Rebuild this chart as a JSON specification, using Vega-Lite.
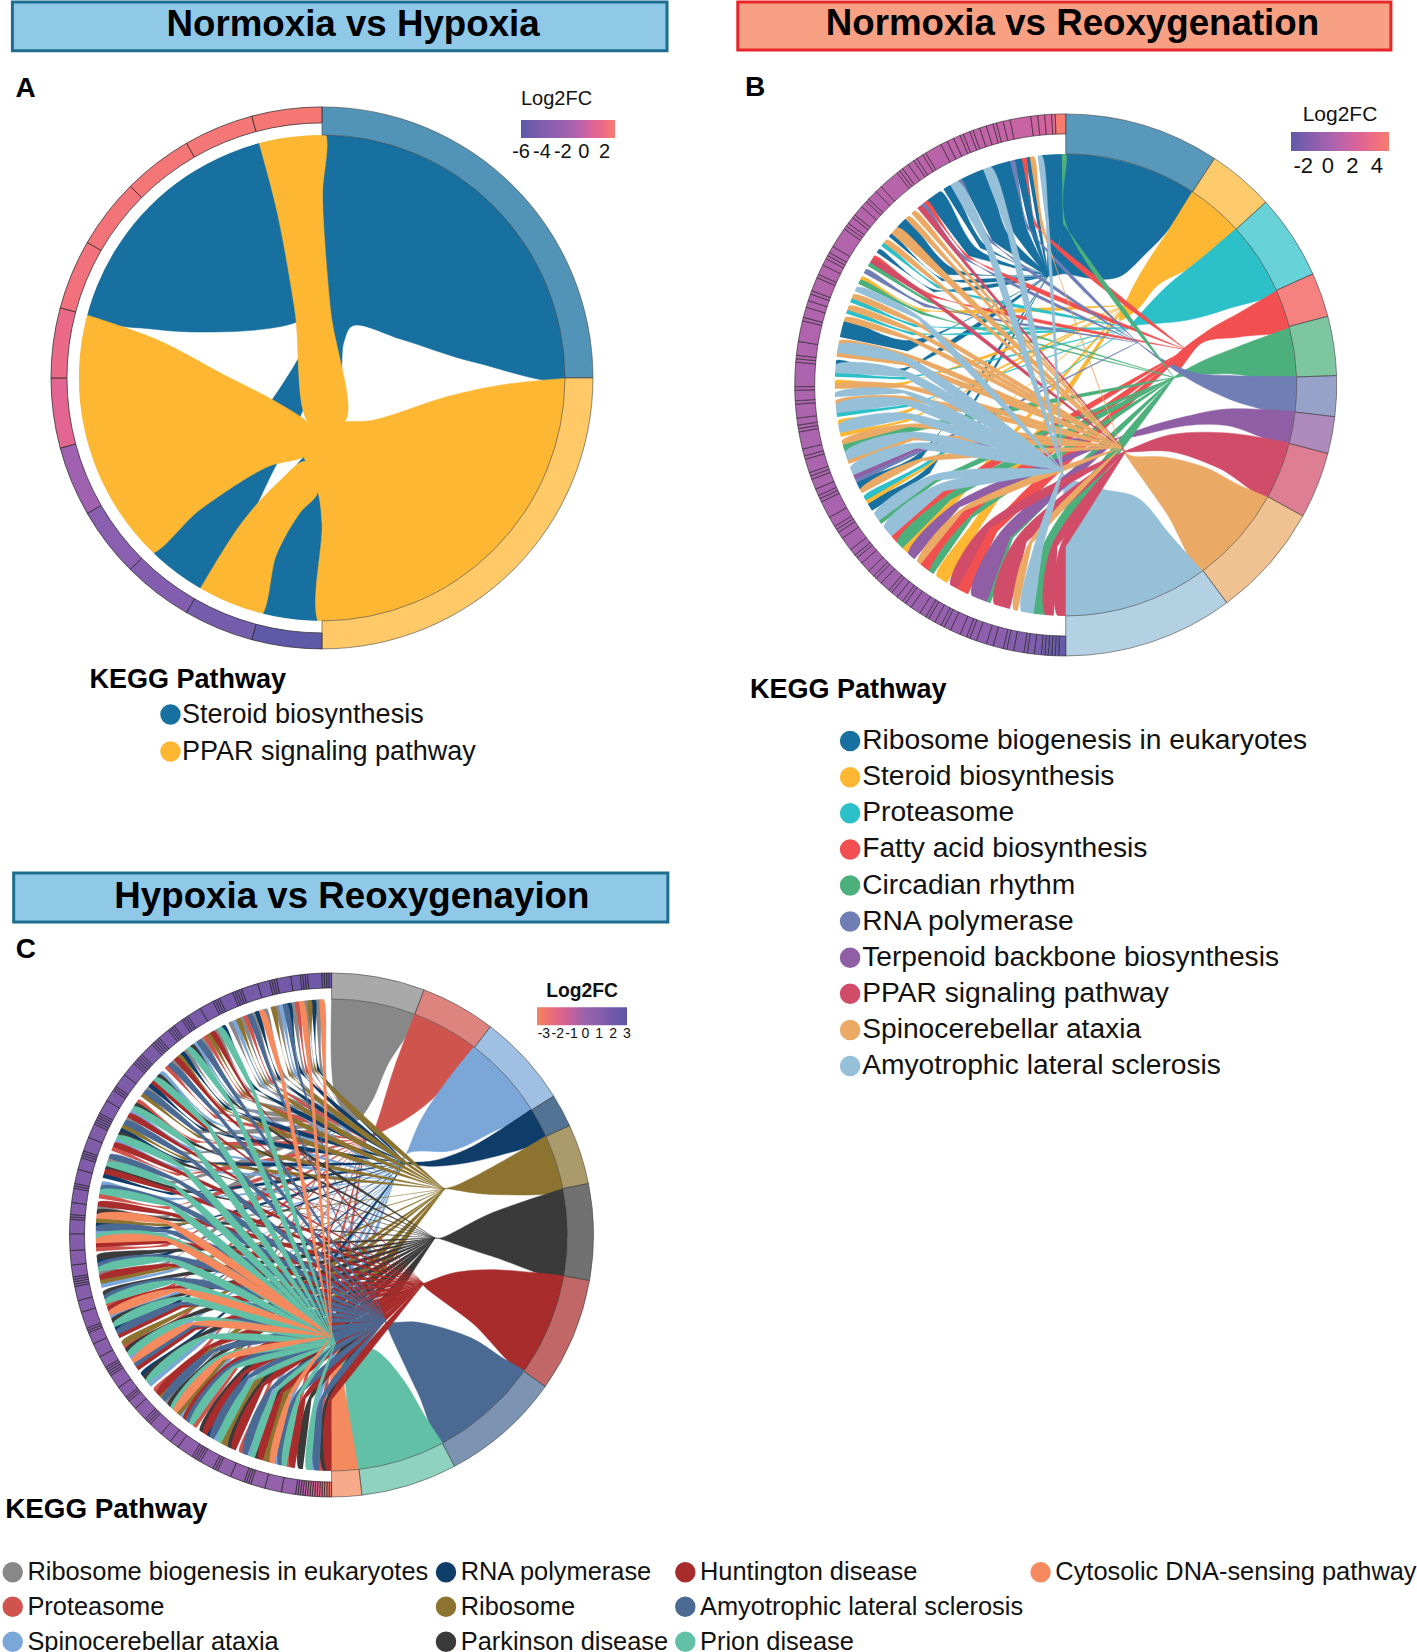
{"$schema":"https://vega.github.io/schema/vega-lite/v6.json","padding":0,"background":"white","spacing":0,"bounds":"flush","columns":2,"resolve":{"scale":{"fill":"independent","stroke":"independent","color":"independent","theta":"independent","x":"independent","y":"independent"},"legend":{"fill":"independent","color":"independent"}},"config":{"view":{"stroke":null},"axis":{"disable":true},"font":"Liberation Sans"},
"datasets":{
"rim":[{"k":0,"x":0,"y":-100},{"k":1,"x":-1.7,"y":-100},{"k":2,"x":-3.5,"y":-99.9},{"k":3,"x":-5.2,"y":-99.9},{"k":4,"x":-7,"y":-99.8},{"k":5,"x":-8.7,"y":-99.6},{"k":6,"x":-10.5,"y":-99.5},{"k":7,"x":-12.2,"y":-99.3},{"k":8,"x":-13.9,"y":-99},{"k":9,"x":-15.6,"y":-98.8},{"k":10,"x":-17.4,"y":-98.5},{"k":11,"x":-19.1,"y":-98.2},{"k":12,"x":-20.8,"y":-97.8},{"k":13,"x":-22.5,"y":-97.4},{"k":14,"x":-24.2,"y":-97},{"k":15,"x":-25.9,"y":-96.6},{"k":16,"x":-27.6,"y":-96.1},{"k":17,"x":-29.2,"y":-95.6},{"k":18,"x":-30.9,"y":-95.1},{"k":19,"x":-32.6,"y":-94.6},{"k":20,"x":-34.2,"y":-94},{"k":21,"x":-35.8,"y":-93.4},{"k":22,"x":-37.5,"y":-92.7},{"k":23,"x":-39.1,"y":-92.1},{"k":24,"x":-40.7,"y":-91.4},{"k":25,"x":-42.3,"y":-90.6},{"k":26,"x":-43.8,"y":-89.9},{"k":27,"x":-45.4,"y":-89.1},{"k":28,"x":-46.9,"y":-88.3},{"k":29,"x":-48.5,"y":-87.5},{"k":30,"x":-50,"y":-86.6},{"k":31,"x":-51.5,"y":-85.7},{"k":32,"x":-53,"y":-84.8},{"k":33,"x":-54.5,"y":-83.9},{"k":34,"x":-55.9,"y":-82.9},{"k":35,"x":-57.4,"y":-81.9},{"k":36,"x":-58.8,"y":-80.9},{"k":37,"x":-60.2,"y":-79.9},{"k":38,"x":-61.6,"y":-78.8},{"k":39,"x":-62.9,"y":-77.7},{"k":40,"x":-64.3,"y":-76.6},{"k":41,"x":-65.6,"y":-75.5},{"k":42,"x":-66.9,"y":-74.3},{"k":43,"x":-68.2,"y":-73.1},{"k":44,"x":-69.5,"y":-71.9},{"k":45,"x":-70.7,"y":-70.7},{"k":46,"x":-71.9,"y":-69.5},{"k":47,"x":-73.1,"y":-68.2},{"k":48,"x":-74.3,"y":-66.9},{"k":49,"x":-75.5,"y":-65.6},{"k":50,"x":-76.6,"y":-64.3},{"k":51,"x":-77.7,"y":-62.9},{"k":52,"x":-78.8,"y":-61.6},{"k":53,"x":-79.9,"y":-60.2},{"k":54,"x":-80.9,"y":-58.8},{"k":55,"x":-81.9,"y":-57.4},{"k":56,"x":-82.9,"y":-55.9},{"k":57,"x":-83.9,"y":-54.5},{"k":58,"x":-84.8,"y":-53},{"k":59,"x":-85.7,"y":-51.5},{"k":60,"x":-86.6,"y":-50},{"k":61,"x":-87.5,"y":-48.5},{"k":62,"x":-88.3,"y":-46.9},{"k":63,"x":-89.1,"y":-45.4},{"k":64,"x":-89.9,"y":-43.8},{"k":65,"x":-90.6,"y":-42.3},{"k":66,"x":-91.4,"y":-40.7},{"k":67,"x":-92.1,"y":-39.1},{"k":68,"x":-92.7,"y":-37.5},{"k":69,"x":-93.4,"y":-35.8},{"k":70,"x":-94,"y":-34.2},{"k":71,"x":-94.6,"y":-32.6},{"k":72,"x":-95.1,"y":-30.9},{"k":73,"x":-95.6,"y":-29.2},{"k":74,"x":-96.1,"y":-27.6},{"k":75,"x":-96.6,"y":-25.9},{"k":76,"x":-97,"y":-24.2},{"k":77,"x":-97.4,"y":-22.5},{"k":78,"x":-97.8,"y":-20.8},{"k":79,"x":-98.2,"y":-19.1},{"k":80,"x":-98.5,"y":-17.4},{"k":81,"x":-98.8,"y":-15.6},{"k":82,"x":-99,"y":-13.9},{"k":83,"x":-99.3,"y":-12.2},{"k":84,"x":-99.5,"y":-10.5},{"k":85,"x":-99.6,"y":-8.7},{"k":86,"x":-99.8,"y":-7},{"k":87,"x":-99.9,"y":-5.2},{"k":88,"x":-99.9,"y":-3.5},{"k":89,"x":-100,"y":-1.7},{"k":90,"x":-100,"y":0},{"k":91,"x":-100,"y":1.7},{"k":92,"x":-99.9,"y":3.5},{"k":93,"x":-99.9,"y":5.2},{"k":94,"x":-99.8,"y":7},{"k":95,"x":-99.6,"y":8.7},{"k":96,"x":-99.5,"y":10.5},{"k":97,"x":-99.3,"y":12.2},{"k":98,"x":-99,"y":13.9},{"k":99,"x":-98.8,"y":15.6},{"k":100,"x":-98.5,"y":17.4},{"k":101,"x":-98.2,"y":19.1},{"k":102,"x":-97.8,"y":20.8},{"k":103,"x":-97.4,"y":22.5},{"k":104,"x":-97,"y":24.2},{"k":105,"x":-96.6,"y":25.9},{"k":106,"x":-96.1,"y":27.6},{"k":107,"x":-95.6,"y":29.2},{"k":108,"x":-95.1,"y":30.9},{"k":109,"x":-94.6,"y":32.6},{"k":110,"x":-94,"y":34.2},{"k":111,"x":-93.4,"y":35.8},{"k":112,"x":-92.7,"y":37.5},{"k":113,"x":-92.1,"y":39.1},{"k":114,"x":-91.4,"y":40.7},{"k":115,"x":-90.6,"y":42.3},{"k":116,"x":-89.9,"y":43.8},{"k":117,"x":-89.1,"y":45.4},{"k":118,"x":-88.3,"y":46.9},{"k":119,"x":-87.5,"y":48.5},{"k":120,"x":-86.6,"y":50},{"k":121,"x":-85.7,"y":51.5},{"k":122,"x":-84.8,"y":53},{"k":123,"x":-83.9,"y":54.5},{"k":124,"x":-82.9,"y":55.9},{"k":125,"x":-81.9,"y":57.4},{"k":126,"x":-80.9,"y":58.8},{"k":127,"x":-79.9,"y":60.2},{"k":128,"x":-78.8,"y":61.6},{"k":129,"x":-77.7,"y":62.9},{"k":130,"x":-76.6,"y":64.3},{"k":131,"x":-75.5,"y":65.6},{"k":132,"x":-74.3,"y":66.9},{"k":133,"x":-73.1,"y":68.2},{"k":134,"x":-71.9,"y":69.5},{"k":135,"x":-70.7,"y":70.7},{"k":136,"x":-69.5,"y":71.9},{"k":137,"x":-68.2,"y":73.1},{"k":138,"x":-66.9,"y":74.3},{"k":139,"x":-65.6,"y":75.5},{"k":140,"x":-64.3,"y":76.6},{"k":141,"x":-62.9,"y":77.7},{"k":142,"x":-61.6,"y":78.8},{"k":143,"x":-60.2,"y":79.9},{"k":144,"x":-58.8,"y":80.9},{"k":145,"x":-57.4,"y":81.9},{"k":146,"x":-55.9,"y":82.9},{"k":147,"x":-54.5,"y":83.9},{"k":148,"x":-53,"y":84.8},{"k":149,"x":-51.5,"y":85.7},{"k":150,"x":-50,"y":86.6},{"k":151,"x":-48.5,"y":87.5},{"k":152,"x":-46.9,"y":88.3},{"k":153,"x":-45.4,"y":89.1},{"k":154,"x":-43.8,"y":89.9},{"k":155,"x":-42.3,"y":90.6},{"k":156,"x":-40.7,"y":91.4},{"k":157,"x":-39.1,"y":92.1},{"k":158,"x":-37.5,"y":92.7},{"k":159,"x":-35.8,"y":93.4},{"k":160,"x":-34.2,"y":94},{"k":161,"x":-32.6,"y":94.6},{"k":162,"x":-30.9,"y":95.1},{"k":163,"x":-29.2,"y":95.6},{"k":164,"x":-27.6,"y":96.1},{"k":165,"x":-25.9,"y":96.6},{"k":166,"x":-24.2,"y":97},{"k":167,"x":-22.5,"y":97.4},{"k":168,"x":-20.8,"y":97.8},{"k":169,"x":-19.1,"y":98.2},{"k":170,"x":-17.4,"y":98.5},{"k":171,"x":-15.6,"y":98.8},{"k":172,"x":-13.9,"y":99},{"k":173,"x":-12.2,"y":99.3},{"k":174,"x":-10.5,"y":99.5},{"k":175,"x":-8.7,"y":99.6},{"k":176,"x":-7,"y":99.8},{"k":177,"x":-5.2,"y":99.9},{"k":178,"x":-3.5,"y":99.9},{"k":179,"x":-1.7,"y":100},{"k":180,"x":0,"y":100},
{"k":1000,"x":0,"y":-70},{"k":1001,"x":-1.2,"y":-70},{"k":1002,"x":-2.4,"y":-69.9},{"k":1003,"x":-3.6,"y":-69.9},{"k":1004,"x":-4.9,"y":-69.9},{"k":1005,"x":-6.1,"y":-69.7},{"k":1006,"x":-7.3,"y":-69.7},{"k":1007,"x":-8.5,"y":-69.5},{"k":1008,"x":-9.7,"y":-69.3},{"k":1009,"x":-10.9,"y":-69.2},{"k":1010,"x":-12.2,"y":-69},{"k":1011,"x":-13.4,"y":-68.7},{"k":1012,"x":-14.6,"y":-68.5},{"k":1013,"x":-15.8,"y":-68.2},{"k":1014,"x":-16.9,"y":-67.9},{"k":1015,"x":-18.1,"y":-67.6},{"k":1016,"x":-19.3,"y":-67.3},{"k":1017,"x":-20.4,"y":-66.9},{"k":1018,"x":-21.6,"y":-66.6},{"k":1019,"x":-22.8,"y":-66.2},{"k":1020,"x":-23.9,"y":-65.8},{"k":1021,"x":-25.1,"y":-65.4},{"k":1022,"x":-26.2,"y":-64.9},{"k":1023,"x":-27.4,"y":-64.5},{"k":1024,"x":-28.5,"y":-64},{"k":1025,"x":-29.6,"y":-63.4},{"k":1026,"x":-30.7,"y":-62.9},{"k":1027,"x":-31.8,"y":-62.4},{"k":1028,"x":-32.8,"y":-61.8},{"k":1029,"x":-33.9,"y":-61.2},{"k":1030,"x":-35,"y":-60.6},{"k":1031,"x":-36,"y":-60},{"k":1032,"x":-37.1,"y":-59.4},{"k":1033,"x":-38.1,"y":-58.7},{"k":1034,"x":-39.1,"y":-58},{"k":1035,"x":-40.2,"y":-57.3},{"k":1036,"x":-41.2,"y":-56.6},{"k":1037,"x":-42.1,"y":-55.9},{"k":1038,"x":-43.1,"y":-55.2},{"k":1039,"x":-44,"y":-54.4},{"k":1040,"x":-45,"y":-53.6},{"k":1041,"x":-45.9,"y":-52.9},{"k":1042,"x":-46.8,"y":-52},{"k":1043,"x":-47.7,"y":-51.2},{"k":1044,"x":-48.6,"y":-50.3},{"k":1045,"x":-49.5,"y":-49.5},{"k":1046,"x":-50.3,"y":-48.6},{"k":1047,"x":-51.2,"y":-47.7},{"k":1048,"x":-52,"y":-46.8},{"k":1049,"x":-52.9,"y":-45.9},{"k":1050,"x":-53.6,"y":-45},{"k":1051,"x":-54.4,"y":-44},{"k":1052,"x":-55.2,"y":-43.1},{"k":1053,"x":-55.9,"y":-42.1},{"k":1054,"x":-56.6,"y":-41.2},{"k":1055,"x":-57.3,"y":-40.2},{"k":1056,"x":-58,"y":-39.1},{"k":1057,"x":-58.7,"y":-38.1},{"k":1058,"x":-59.4,"y":-37.1},{"k":1059,"x":-60,"y":-36},{"k":1060,"x":-60.6,"y":-35},{"k":1061,"x":-61.2,"y":-33.9},{"k":1062,"x":-61.8,"y":-32.8},{"k":1063,"x":-62.4,"y":-31.8},{"k":1064,"x":-62.9,"y":-30.7},{"k":1065,"x":-63.4,"y":-29.6},{"k":1066,"x":-64,"y":-28.5},{"k":1067,"x":-64.5,"y":-27.4},{"k":1068,"x":-64.9,"y":-26.2},{"k":1069,"x":-65.4,"y":-25.1},{"k":1070,"x":-65.8,"y":-23.9},{"k":1071,"x":-66.2,"y":-22.8},{"k":1072,"x":-66.6,"y":-21.6},{"k":1073,"x":-66.9,"y":-20.4},{"k":1074,"x":-67.3,"y":-19.3},{"k":1075,"x":-67.6,"y":-18.1},{"k":1076,"x":-67.9,"y":-16.9},{"k":1077,"x":-68.2,"y":-15.8},{"k":1078,"x":-68.5,"y":-14.6},{"k":1079,"x":-68.7,"y":-13.4},{"k":1080,"x":-69,"y":-12.2},{"k":1081,"x":-69.2,"y":-10.9},{"k":1082,"x":-69.3,"y":-9.7},{"k":1083,"x":-69.5,"y":-8.5},{"k":1084,"x":-69.7,"y":-7.3},{"k":1085,"x":-69.7,"y":-6.1},{"k":1086,"x":-69.9,"y":-4.9},{"k":1087,"x":-69.9,"y":-3.6},{"k":1088,"x":-69.9,"y":-2.4},{"k":1089,"x":-70,"y":-1.2},{"k":1090,"x":-70,"y":0},{"k":1091,"x":-70,"y":1.2},{"k":1092,"x":-69.9,"y":2.4},{"k":1093,"x":-69.9,"y":3.6},{"k":1094,"x":-69.9,"y":4.9},{"k":1095,"x":-69.7,"y":6.1},{"k":1096,"x":-69.7,"y":7.3},{"k":1097,"x":-69.5,"y":8.5},{"k":1098,"x":-69.3,"y":9.7},{"k":1099,"x":-69.2,"y":10.9},{"k":1100,"x":-69,"y":12.2},{"k":1101,"x":-68.7,"y":13.4},{"k":1102,"x":-68.5,"y":14.6},{"k":1103,"x":-68.2,"y":15.8},{"k":1104,"x":-67.9,"y":16.9},{"k":1105,"x":-67.6,"y":18.1},{"k":1106,"x":-67.3,"y":19.3},{"k":1107,"x":-66.9,"y":20.4},{"k":1108,"x":-66.6,"y":21.6},{"k":1109,"x":-66.2,"y":22.8},{"k":1110,"x":-65.8,"y":23.9},{"k":1111,"x":-65.4,"y":25.1},{"k":1112,"x":-64.9,"y":26.2},{"k":1113,"x":-64.5,"y":27.4},{"k":1114,"x":-64,"y":28.5},{"k":1115,"x":-63.4,"y":29.6},{"k":1116,"x":-62.9,"y":30.7},{"k":1117,"x":-62.4,"y":31.8},{"k":1118,"x":-61.8,"y":32.8},{"k":1119,"x":-61.2,"y":33.9},{"k":1120,"x":-60.6,"y":35},{"k":1121,"x":-60,"y":36},{"k":1122,"x":-59.4,"y":37.1},{"k":1123,"x":-58.7,"y":38.1},{"k":1124,"x":-58,"y":39.1},{"k":1125,"x":-57.3,"y":40.2},{"k":1126,"x":-56.6,"y":41.2},{"k":1127,"x":-55.9,"y":42.1},{"k":1128,"x":-55.2,"y":43.1},{"k":1129,"x":-54.4,"y":44},{"k":1130,"x":-53.6,"y":45},{"k":1131,"x":-52.9,"y":45.9},{"k":1132,"x":-52,"y":46.8},{"k":1133,"x":-51.2,"y":47.7},{"k":1134,"x":-50.3,"y":48.6},{"k":1135,"x":-49.5,"y":49.5},{"k":1136,"x":-48.6,"y":50.3},{"k":1137,"x":-47.7,"y":51.2},{"k":1138,"x":-46.8,"y":52},{"k":1139,"x":-45.9,"y":52.9},{"k":1140,"x":-45,"y":53.6},{"k":1141,"x":-44,"y":54.4},{"k":1142,"x":-43.1,"y":55.2},{"k":1143,"x":-42.1,"y":55.9},{"k":1144,"x":-41.2,"y":56.6},{"k":1145,"x":-40.2,"y":57.3},{"k":1146,"x":-39.1,"y":58},{"k":1147,"x":-38.1,"y":58.7},{"k":1148,"x":-37.1,"y":59.4},{"k":1149,"x":-36,"y":60},{"k":1150,"x":-35,"y":60.6},{"k":1151,"x":-33.9,"y":61.2},{"k":1152,"x":-32.8,"y":61.8},{"k":1153,"x":-31.8,"y":62.4},{"k":1154,"x":-30.7,"y":62.9},{"k":1155,"x":-29.6,"y":63.4},{"k":1156,"x":-28.5,"y":64},{"k":1157,"x":-27.4,"y":64.5},{"k":1158,"x":-26.2,"y":64.9},{"k":1159,"x":-25.1,"y":65.4},{"k":1160,"x":-23.9,"y":65.8},{"k":1161,"x":-22.8,"y":66.2},{"k":1162,"x":-21.6,"y":66.6},{"k":1163,"x":-20.4,"y":66.9},{"k":1164,"x":-19.3,"y":67.3},{"k":1165,"x":-18.1,"y":67.6},{"k":1166,"x":-16.9,"y":67.9},{"k":1167,"x":-15.8,"y":68.2},{"k":1168,"x":-14.6,"y":68.5},{"k":1169,"x":-13.4,"y":68.7},{"k":1170,"x":-12.2,"y":69},{"k":1171,"x":-10.9,"y":69.2},{"k":1172,"x":-9.7,"y":69.3},{"k":1173,"x":-8.5,"y":69.5},{"k":1174,"x":-7.3,"y":69.7},{"k":1175,"x":-6.1,"y":69.7},{"k":1176,"x":-4.9,"y":69.9},{"k":1177,"x":-3.6,"y":69.9},{"k":1178,"x":-2.4,"y":69.9},{"k":1179,"x":-1.2,"y":70},{"k":1180,"x":0,"y":70},
{"k":201,"x":-7.6,"y":47.3,"pathway":"Ribosome biogenesis in eukaryotes"},{"k":202,"x":25.9,"y":34.5,"pathway":"Steroid biosynthesis"},{"k":203,"x":27.6,"y":24.8,"pathway":"Proteasome"},{"k":204,"x":52.3,"y":15.2,"pathway":"Fatty acid biosynthesis"},{"k":205,"x":47,"y":3.2,"pathway":"Circadian rhythm"},{"k":206,"x":31.2,"y":18.4,"pathway":"RNA polymerase"},{"k":207,"x":22.4,"y":-23.2,"pathway":"Terpenoid backbone biosynthesis"},{"k":208,"x":25.9,"y":-28.8,"pathway":"PPAR signaling pathway"},{"k":209,"x":24.1,"y":-27.2,"pathway":"Spinocerebellar ataxia"},{"k":210,"x":-1.4,"y":-36.9,"pathway":"Amyotrophic lateral sclerosis"},
{"k":301,"x":7.3,"y":48.4,"pathway":"Ribosome biogenesis in eukaryotes"},{"k":302,"x":14.6,"y":40.3,"pathway":"Proteasome"},{"k":303,"x":26.8,"y":23.9,"pathway":"Spinocerebellar ataxia"},{"k":304,"x":31.7,"y":30.6,"pathway":"RNA polymerase"},{"k":305,"x":47.9,"y":19.5,"pathway":"Ribosome"},{"k":306,"x":43.8,"y":-1.3,"pathway":"Parkinson disease"},{"k":307,"x":39,"y":-20.7,"pathway":"Huntington disease"},{"k":308,"x":22.7,"y":-36.3,"pathway":"Amyotrophic lateral sclerosis"},{"k":309,"x":1.6,"y":-45.9,"pathway":"Prion disease"},{"k":310,"x":0,"y":-43,"pathway":"Cytosolic DNA-sensing pathway"}],
"linksB":[{"h":201,"k":[57,59,1059,201,1057]},{"h":201,"k":[63,65,1065,201,1063]},{"h":201,"k":[95,96,1096,201,1095]},{"h":201,"k":[102,106,1106,201,1102]},{"h":201,"k":[125,126,1126,201,1125]},{"h":201,"k":[130,131,1131,201,1130]},{"h":201,"k":[133,136,1136,201,1133]},{"h":201,"k":[143,147,1147,201,1143]},{"h":201,"k":[148,150,1150,201,1148]},{"h":201,"k":[153,159,1159,201,1153]},{"h":201,"k":[161,166,1166,201,1161]},{"h":201,"k":[167,169,1169,201,1167]},{"h":201,"k":[170,171,1171,201,1170]},{"h":201,"k":[174,179,1179,201,1174]},
{"h":202,"k":[31,34,1034,202,1031]},{"h":202,"k":[43,45,1045,202,1043]},{"h":202,"k":[59,60,1060,202,1059]},{"h":202,"k":[77,78,1078,202,1077]},{"h":202,"k":[80,81,1081,202,1080]},{"h":202,"k":[90,91,1091,202,1090]},{"h":202,"k":[117,118,1118,202,1117]},
{"h":203,"k":[60,61,1061,203,1060]},{"h":203,"k":[82,83,1083,203,1082]},{"h":203,"k":[92,93,1093,203,1092]},{"h":203,"k":[108,109,1109,203,1108]},{"h":203,"k":[111,112,1112,203,1111]},{"h":203,"k":[127,128,1128,203,1127]},
{"h":204,"k":[25,28,1028,204,1025]},{"h":204,"k":[36,39,1039,204,1036]},{"h":204,"k":[47,49,1049,204,1047]},{"h":204,"k":[123,124,1124,204,1123]},{"h":204,"k":[142,143,1143,204,1142]},{"h":204,"k":[169,170,1170,204,1169]},
{"h":205,"k":[5,8,1008,205,1005]},{"h":205,"k":[19,20,1020,205,1019]},{"h":205,"k":[35,36,1036,205,1035]},{"h":205,"k":[45,47,1047,205,1045]},{"h":205,"k":[53,54,1054,205,1053]},{"h":205,"k":[73,75,1075,205,1073]},{"h":205,"k":[116,117,1117,205,1116]},{"h":205,"k":[121,122,1122,205,1121]},{"h":205,"k":[179,180,1180,205,1179]},
{"h":206,"k":[65,66,1066,206,1065]},{"h":206,"k":[119,120,1120,206,1119]},{"h":206,"k":[141,142,1142,206,1141]},{"h":206,"k":[152,153,1153,206,1152]},{"h":206,"k":[166,167,1167,206,1166]},
{"h":207,"k":[20,24,1024,207,1020]},{"h":207,"k":[41,43,1043,207,1041]},{"h":207,"k":[66,67,1067,207,1066]},
{"h":208,"k":[0,2,1002,208,1000]},{"h":208,"k":[3,5,1005,208,1003]},{"h":208,"k":[14,18,1018,208,1014]},{"h":208,"k":[28,30,1030,208,1028]},{"h":208,"k":[122,123,1123,208,1122]},{"h":208,"k":[140,141,1141,208,1140]},
{"h":209,"k":[12,13,1013,209,1012]},{"h":209,"k":[39,40,1040,209,1039]},{"h":209,"k":[62,63,1063,209,1062]},{"h":209,"k":[70,71,1071,209,1070]},{"h":209,"k":[75,76,1076,209,1075]},{"h":209,"k":[85,86,1086,209,1085]},{"h":209,"k":[89,90,1090,209,1089]},{"h":209,"k":[97,98,1098,209,1097]},{"h":209,"k":[100,101,1101,209,1100]},{"h":209,"k":[106,107,1107,209,1106]},{"h":209,"k":[109,110,1110,209,1109]},{"h":209,"k":[112,113,1113,209,1112]},{"h":209,"k":[128,129,1129,209,1128]},{"h":209,"k":[131,133,1133,209,1131]},{"h":209,"k":[136,137,1137,209,1136]},{"h":209,"k":[138,139,1139,209,1138]},{"h":209,"k":[171,172,1172,209,1171]},
{"h":210,"k":[8,11,1011,210,1008]},{"h":210,"k":[49,52,1052,210,1049]},{"h":210,"k":[54,56,1056,210,1054]},{"h":210,"k":[67,69,1069,210,1067]},{"h":210,"k":[71,73,1073,210,1071]},{"h":210,"k":[78,80,1080,210,1078]},{"h":210,"k":[83,85,1085,210,1083]},{"h":210,"k":[87,88,1088,210,1087]},{"h":210,"k":[93,95,1095,210,1093]},{"h":210,"k":[98,100,1100,210,1098]},{"h":210,"k":[114,115,1115,210,1114]},{"h":210,"k":[150,152,1152,210,1150]},{"h":210,"k":[159,161,1161,210,1159]},{"h":210,"k":[173,174,1174,210,1173]}],
"linksC":[{"h":301,"k":[176,177,1177,301,1176]},{"h":301,"k":[173,174,1174,301,1173]},{"h":301,"k":[170,171,1171,301,1170]},{"h":301,"k":[166,167,1167,301,1166]},{"h":301,"k":[163,164,1164,301,1163]},{"h":301,"k":[160,161,1161,301,1160]},{"h":301,"k":[157,158,1158,301,1157]},{"h":301,"k":[154,155,1155,301,1154]},{"h":301,"k":[150,151,1151,301,1150]},{"h":301,"k":[146,147,1147,301,1146]},{"h":301,"k":[141,142,1142,301,1141]},{"h":301,"k":[137,138,1138,301,1137]},{"h":301,"k":[128,129,1129,301,1128]},{"h":301,"k":[119,120,1120,301,1119]},{"h":301,"k":[108,109,1109,301,1108]},{"h":301,"k":[96,97,1097,301,1096]},{"h":301,"k":[80,81,1081,301,1080]},{"h":301,"k":[44,45,1045,301,1044]},
{"h":302,"k":[2,3,1003,302,1002]},{"h":302,"k":[10,11,1011,302,1010]},{"h":302,"k":[22,23,1023,302,1022]},{"h":302,"k":[35,36,1036,302,1035]},{"h":302,"k":[48,49,1049,302,1048]},{"h":302,"k":[61,62,1062,302,1061]},{"h":302,"k":[72,73,1073,302,1072]},{"h":302,"k":[86,87,1087,302,1086]},{"h":302,"k":[99,100,1100,302,1099]},{"h":302,"k":[111,112,1112,302,1111]},{"h":302,"k":[124,125,1125,302,1124]},{"h":302,"k":[135,136,1136,302,1135]},{"h":302,"k":[147,148,1148,302,1147]},{"h":302,"k":[158,159,1159,302,1158]},{"h":302,"k":[171,172,1172,302,1171]},
{"h":303,"k":[4,5,1005,303,1004]},{"h":303,"k":[13,14,1014,303,1013]},{"h":303,"k":[20,21,1021,303,1020]},{"h":303,"k":[29,30,1030,303,1029]},{"h":303,"k":[39,40,1040,303,1039]},{"h":303,"k":[50,51,1051,303,1050]},{"h":303,"k":[58,59,1059,303,1058]},{"h":303,"k":[69,70,1070,303,1069]},{"h":303,"k":[77,78,1078,303,1077]},{"h":303,"k":[90,91,1091,303,1090]},{"h":303,"k":[102,103,1103,303,1102]},{"h":303,"k":[113,114,1114,303,1113]},{"h":303,"k":[121,122,1122,303,1121]},{"h":303,"k":[133,134,1134,303,1133]},{"h":303,"k":[144,145,1145,303,1144]},{"h":303,"k":[155,156,1156,303,1155]},{"h":303,"k":[167,168,1168,303,1167]},
{"h":304,"k":[175,176,1176,304,1175]},{"h":304,"k":[169,170,1170,304,1169]},{"h":304,"k":[161,162,1162,304,1161]},{"h":304,"k":[152,153,1153,304,1152]},{"h":304,"k":[140,141,1141,304,1140]},{"h":304,"k":[129,130,1130,304,1129]},{"h":304,"k":[116,117,1117,304,1116]},{"h":304,"k":[104,105,1105,304,1104]},{"h":304,"k":[92,93,1093,304,1092]},{"h":304,"k":[83,84,1084,304,1083]},{"h":304,"k":[66,67,1067,304,1066]},{"h":304,"k":[53,54,1054,304,1053]},{"h":304,"k":[31,32,1032,304,1031]},
{"h":305,"k":[174,175,1175,305,1174]},{"h":305,"k":[165,166,1166,305,1165]},{"h":305,"k":[156,157,1157,305,1156]},{"h":305,"k":[148,149,1149,305,1148]},{"h":305,"k":[139,140,1140,305,1139]},{"h":305,"k":[126,127,1127,305,1126]},{"h":305,"k":[117,118,1118,305,1117]},{"h":305,"k":[93,94,1094,305,1093]},{"h":305,"k":[78,79,1079,305,1078]},{"h":305,"k":[62,63,1063,305,1062]},{"h":305,"k":[46,47,1047,305,1046]},{"h":305,"k":[40,41,1041,305,1040]},{"h":305,"k":[26,28,1028,305,1026]},{"h":305,"k":[15,17,1017,305,1015]},
{"h":306,"k":[1,2,1002,306,1001]},{"h":306,"k":[7,8,1008,306,1007]},{"h":306,"k":[18,19,1019,306,1018]},{"h":306,"k":[25,26,1026,306,1025]},{"h":306,"k":[33,34,1034,306,1033]},{"h":306,"k":[43,44,1044,306,1043]},{"h":306,"k":[52,53,1053,306,1052]},{"h":306,"k":[60,61,1061,306,1060]},{"h":306,"k":[68,69,1069,306,1068]},{"h":306,"k":[75,76,1076,306,1075]},{"h":306,"k":[84,85,1085,306,1084]},{"h":306,"k":[95,96,1096,306,1095]},{"h":306,"k":[106,107,1107,306,1106]},{"h":306,"k":[115,116,1116,306,1115]},{"h":306,"k":[123,124,1124,306,1123]},{"h":306,"k":[132,133,1133,306,1132]},{"h":306,"k":[143,144,1144,306,1143]},
{"h":307,"k":[0,1,1001,307,1000]},{"h":307,"k":[9,10,1010,307,1009]},{"h":307,"k":[17,18,1018,307,1017]},{"h":307,"k":[24,25,1025,307,1024]},{"h":307,"k":[32,33,1033,307,1032]},{"h":307,"k":[38,39,1039,307,1038]},{"h":307,"k":[47,48,1048,307,1047]},{"h":307,"k":[55,56,1056,307,1055]},{"h":307,"k":[64,65,1065,307,1064]},{"h":307,"k":[71,72,1072,307,1071]},{"h":307,"k":[79,80,1080,307,1079]},{"h":307,"k":[87,88,1088,307,1087]},{"h":307,"k":[97,98,1098,307,1097]},{"h":307,"k":[105,106,1106,307,1105]},{"h":307,"k":[112,113,1113,307,1112]},{"h":307,"k":[120,121,1121,307,1120]},{"h":307,"k":[130,131,1131,307,1130]},{"h":307,"k":[138,139,1139,307,1138]},{"h":307,"k":[149,150,1150,307,1149]},
{"h":308,"k":[3,4,1004,308,1003]},{"h":308,"k":[12,13,1013,308,1012]},{"h":308,"k":[21,22,1022,308,1021]},{"h":308,"k":[30,31,1031,308,1030]},{"h":308,"k":[37,38,1038,308,1037]},{"h":308,"k":[45,46,1046,308,1045]},{"h":308,"k":[56,57,1057,308,1056]},{"h":308,"k":[65,66,1066,308,1065]},{"h":308,"k":[74,75,1075,308,1074]},{"h":308,"k":[82,83,1083,308,1082]},{"h":308,"k":[91,92,1092,308,1091]},{"h":308,"k":[101,102,1102,308,1101]},{"h":308,"k":[109,110,1110,308,1109]},{"h":308,"k":[118,119,1119,308,1118]},{"h":308,"k":[127,128,1128,308,1127]},{"h":308,"k":[136,137,1137,308,1136]},{"h":308,"k":[145,146,1146,308,1145]},{"h":308,"k":[159,160,1160,308,1159]},{"h":308,"k":[168,169,1169,308,1168]},
{"h":309,"k":[5,6,1006,309,1005]},{"h":309,"k":[11,12,1012,309,1011]},{"h":309,"k":[19,20,1020,309,1019]},{"h":309,"k":[28,29,1029,309,1028]},{"h":309,"k":[36,37,1037,309,1036]},{"h":309,"k":[42,43,1043,309,1042]},{"h":309,"k":[51,52,1052,309,1051]},{"h":309,"k":[59,60,1060,309,1059]},{"h":309,"k":[67,68,1068,309,1067]},{"h":309,"k":[73,74,1074,309,1073]},{"h":309,"k":[81,82,1082,309,1081]},{"h":309,"k":[89,90,1090,309,1089]},{"h":309,"k":[100,101,1101,309,1100]},{"h":309,"k":[107,108,1108,309,1107]},{"h":309,"k":[114,115,1115,309,1114]},{"h":309,"k":[122,123,1123,309,1122]},{"h":309,"k":[131,132,1132,309,1131]},{"h":309,"k":[142,143,1143,309,1142]},{"h":309,"k":[151,152,1152,309,1151]},
{"h":310,"k":[177,178,1178,310,1177]},{"h":310,"k":[172,173,1173,310,1172]},{"h":310,"k":[162,163,1163,310,1162]},{"h":310,"k":[94,95,1095,310,1094]},{"h":310,"k":[88,89,1089,310,1088]},{"h":310,"k":[70,71,1071,310,1070]},{"h":310,"k":[57,58,1058,310,1057]},{"h":310,"k":[41,42,1042,310,1041]},{"h":310,"k":[14,15,1015,310,1014]}]
},
"concat":[
{"width":720,"height":870,"resolve":{"scale":{"theta":"independent"}},"layer":[
{"data":{"values":[
{"pathway":"Steroid biosynthesis","x":[0,26.7,51.5,72.8,89.2,99.5,103,62.3,32.9,12.7,9,6.3,-3.9,0,0],"y":[103,99.5,89.2,72.8,51.5,26.7,0,6.6,15.8,21.5,14.8,-2.7,-2.7,50,103]},
{"pathway":"Steroid biosynthesis","x":[-26.7,-51.5,-72.8,-89.2,-99.5,-68,-44.3,-22.2,-10.3,2,0,-26.7],"y":[99.5,89.2,72.8,51.5,26.7,19.9,18.9,20.3,23,30,60,99.5]},
{"pathway":"Steroid biosynthesis","x":[-7.5,-20.4,-72.8,-51.5,-18.6,-9,-3.9,-7.5],"y":[11.7,-8.8,-72.8,-89.2,-35.4,-16,-0.6,11.7]},
{"pathway":"Steroid biosynthesis","x":[-26.7,0,0,-1.7,-9.4,-18.6,-26.7],"y":[-99.5,-103,-60,-46.7,-55.9,-72.3,-99.5]},
{"pathway":"Steroid biosynthesis","x":[-13.5,-6.6,-5],"y":[-40.5,-32,-36]},
{"pathway":"PPAR signaling pathway","x":[-99.5,-103,-99.5,-89.2,-72.8,-49.8,-22.2,-7.5,0,-4.8,-20,-40.6,-68,-99.5],"y":[26.7,0,-26.7,-51.5,-72.8,-53.9,-36.5,-32.4,-25,-19,-9.2,1.4,15.8,26.7]},
{"pathway":"PPAR signaling pathway","x":[103,99.5,89.2,72.8,51.5,26.7,0,0,-1.7,-6.6,-7.5,-4.8,9.4,21,51.3,75.2,103],"y":[0,-26.7,-51.5,-72.8,-89.2,-99.5,-103,-60,-46.7,-34.4,-32.4,-19,-18,-17.4,-7.8,-2.7,0]},
{"pathway":"PPAR signaling pathway","x":[-51.5,-26.7,-18.6,-9.4,-1.7,-6.6,-18.6,-33.3,-51.5],"y":[-89.2,-99.5,-72.3,-55.9,-46.7,-34.4,-43.6,-60,-89.2]},
{"pathway":"PPAR signaling pathway","x":[-26.7,0,0.2,3.5,9.4,-4.8,-11.2,-18.6,-26.7],"y":[99.5,103,73,28,-18,-19,28.1,69,99.5]}]},
"transform":[{"window":[{"op":"row_number","as":"id"}]},{"flatten":["x","y"]}],
"mark":{"type":"line","strokeWidth":0.5,"interpolate":"catmull-rom"},
"encoding":{"x":{"field":"x","type":"quantitative","scale":{"domain":[-132.5,163.8],"nice":false,"zero":false}},"y":{"field":"y","type":"quantitative","scale":{"domain":[-202.9,155.1],"nice":false,"zero":false}},"detail":{"field":"id"},"order":{"value":null},"fill":{"field":"pathway","type":"nominal","scale":{"domain":["Steroid biosynthesis","PPAR signaling pathway"],"range":["#17709f","#fdb733"]}},"stroke":{"field":"pathway","type":"nominal","scale":{"domain":["Steroid biosynthesis","PPAR signaling pathway"],"range":["#17709f","#fdb733"]},"legend":null}}},
{"data":{"values":[{}]},"mark":{"type":"arc","theta":0,"theta2":6.2832,"radius":276,"radius2":243,"fill":"white"},"encoding":{"x":{"datum":0,"type":"quantitative"},"y":{"datum":0,"type":"quantitative"}}},
{"data":{"values":[{"pathway":"Steroid biosynthesis","n":6},{"pathway":"PPAR signaling pathway","n":6}]},"transform":[{"window":[{"op":"row_number","as":"i"}]}],
"mark":{"type":"arc","radius":271,"radius2":243,"fillOpacity":0.75,"stroke":"#444","strokeWidth":0.6},
"encoding":{"x":{"datum":0,"type":"quantitative"},"y":{"datum":0,"type":"quantitative"},"theta":{"field":"n","type":"quantitative","stack":true,"scale":{"range":[0,3.14159],"nice":false}},"order":{"field":"i"},"fill":{"field":"pathway","type":"nominal","legend":{"title":null,"orient":"none","legendX":157,"legendY":700,"padding":0,"symbolType":"circle","symbolSize":420,"symbolStrokeWidth":0,"labelFont":"Liberation Sans","labelFontSize":27,"labelColor":"#111","labelLimit":700,"labelOffset":-2,"rowPadding":9}}}},
{"data":{"values":[{"w":1,"v":-6},{"w":1,"v":-4.6},{"w":1,"v":-3.6},{"w":1,"v":-3.2},{"w":1,"v":-1.6},{"w":1,"v":1.2},{"w":1,"v":1.7},{"w":1,"v":2.3},{"w":1,"v":2.5},{"w":1,"v":2.6},{"w":1,"v":2.6},{"w":1,"v":2.7}]},"transform":[{"window":[{"op":"row_number","as":"i"}]}],
"mark":{"type":"arc","radius":271,"radius2":255,"stroke":"#222","strokeWidth":0.7},
"encoding":{"x":{"datum":0,"type":"quantitative"},"y":{"datum":0,"type":"quantitative"},"theta":{"field":"w","type":"quantitative","stack":true,"scale":{"range":[3.14159,6.28319],"nice":false}},"order":{"field":"i"},"color":{"field":"v","type":"quantitative","scale":{"domain":[-6.01,-1,3],"range":["#5f5aa8","#a863b0","#f67c6e"]},"legend":{"title":"Log2FC","orient":"none","legendX":521,"legendY":88,"direction":"horizontal","gradientLength":94,"gradientThickness":18,"values":[-6,-4,-2,0,2],"labelExpr":"''+datum.value","labelOverlap":false,"titleFont":"Liberation Sans","titleFontWeight":"normal","titleFontSize":20,"titleColor":"#111","titleAnchor":"start","titlePadding":11,"labelFont":"Liberation Sans","labelFontSize":20,"labelOffset":4,"labelColor":"#111","padding":0}}}},
{"data":{"values":[{}]},"mark":{"type":"rect","fill":"#90c8e8","stroke":"#1d6e8e","strokeWidth":3},"encoding":{"x":{"datum":-127.4,"type":"quantitative"},"x2":{"datum":142},"y":{"datum":154.7,"type":"quantitative"},"y2":{"datum":134.6}}},
{"data":{"values":[{"t":"Normoxia vs Hypoxia"}]},"mark":{"type":"text","fontSize":36.7,"fontWeight":"bold","align":"center","baseline":"middle","color":"#000"},"encoding":{"text":{"field":"t"},"x":{"datum":12.8,"type":"quantitative"},"y":{"datum":145.3,"type":"quantitative"}}},
{"data":{"values":[{"t":"A"}]},"mark":{"type":"text","fontSize":28,"fontWeight":"bold","align":"center","baseline":"middle","color":"#000"},"encoding":{"text":{"field":"t"},"x":{"datum":-122,"type":"quantitative"},"y":{"datum":119,"type":"quantitative"}}},
{"data":{"values":[{"t":"KEGG Pathway"}]},"mark":{"type":"text","fontSize":27,"fontWeight":"bold","align":"left","baseline":"middle","color":"#000"},"encoding":{"text":{"field":"t"},"x":{"datum":-95.7,"type":"quantitative"},"y":{"datum":-124.5,"type":"quantitative"}}}
]},
{"width":697,"height":870,"resolve":{"scale":{"theta":"independent"}},"layer":[
{"data":{"values":[
{"pathway":"Ribosome biogenesis in eukaryotes","x":[0,17.7,34.9,55.9,45.2,34.7,24.1,17.1,8.3,-0.5,-7.6,-3,0,0],"y":[102,100.4,95.8,85.4,68.1,56.9,47.3,45.7,46.5,48.1,47.3,60,90,102]},
{"pathway":"Steroid biosynthesis","x":[55.9,65.6,75.2,59.3,40,31.2,23.2,27.6,34.7,45.2,55.9],"y":[85.4,78.1,68.9,53.7,43.3,32.9,28,39.3,52.1,68.1,85.4]},
{"pathway":"Proteasome","x":[75.2,85,93,69.9,52.3,29.4,27.6,43.5,59.3,75.2],"y":[68.9,56,41.8,32.9,28,25.6,24.8,42.5,55.3,68.9]},
{"pathway":"Fatty acid biosynthesis","x":[93,98.8,75.2,59.3,48,46,61.1,75.2,93],"y":[41.8,25.4,20.8,18.4,6,10,23.2,31.3,41.8]},
{"pathway":"Circadian rhythm","x":[98.8,101.9,69.9,52.3,47,57.6,75.2,98.8],"y":[25.4,3.7,4.8,4,3.2,9.6,16.8,25.4]},
{"pathway":"RNA polymerase","x":[101.9,101.3,78.7,59.3,43.5,31.2,41.7,55.8,73.4,101.9],"y":[3.7,-11.7,-8.8,-0.8,8.8,18.4,11.2,5.3,4,3.7]},
{"pathway":"Terpenoid backbone biosynthesis","x":[101.3,98.7,69.9,52.3,29.4,22.4,34.7,52.3,69.9,101.3],"y":[-11.7,-25.5,-17.6,-17.6,-22.4,-23.2,-18.4,-13.6,-10.4,-11.7]},
{"pathway":"PPAR signaling pathway","x":[98.7,95,89.3,66.4,45.2,25.9,29.4,45.2,69.9,98.7],"y":[-25.5,-38,-49.3,-36.1,-28.8,-28.8,-27.2,-21.6,-20.8,-25.5]},
{"pathway":"Spinocerebellar ataxia","x":[89.3,76,60.5,43.5,24.1,27.6,43.5,61.1,73.4,89.3],"y":[-49.3,-67,-82.1,-55.3,-27.2,-30.4,-31.3,-36,-42.5,-49.3]},
{"pathway":"Amyotrophic lateral sclerosis","x":[60.5,32,0,0,-1.4,-0.5,15.3,31.2,45.2,60.5],"y":[-82.1,-97,-102,-60,-36.9,-39.3,-44.9,-48.9,-64.9,-82.1]}]},
"mark":{"type":"line","strokeWidth":0.5,"interpolate":"catmull-rom"},"transform":[{"flatten":["x","y"]}],
"encoding":{"x":{"field":"x","type":"quantitative","scale":{"domain":[-149.7,152.1],"nice":false,"zero":false}},"y":{"field":"y","type":"quantitative","scale":{"domain":[-210.4,166.2],"nice":false,"zero":false}},"order":{"value":null},"fill":{"field":"pathway","type":"nominal","scale":{"domain":["Ribosome biogenesis in eukaryotes","Steroid biosynthesis","Proteasome","Fatty acid biosynthesis","Circadian rhythm","RNA polymerase","Terpenoid backbone biosynthesis","PPAR signaling pathway","Spinocerebellar ataxia","Amyotrophic lateral sclerosis"],"range":["#17709f","#fdb733","#2cc0c8","#f25050","#4cb07c","#6f7eb4","#905ea4","#d14c68","#eaaa66","#96bfd8"]}},"stroke":{"field":"pathway","type":"nominal","scale":{"domain":["Ribosome biogenesis in eukaryotes","Steroid biosynthesis","Proteasome","Fatty acid biosynthesis","Circadian rhythm","RNA polymerase","Terpenoid backbone biosynthesis","PPAR signaling pathway","Spinocerebellar ataxia","Amyotrophic lateral sclerosis"],"range":["#17709f","#fdb733","#2cc0c8","#f25050","#4cb07c","#6f7eb4","#905ea4","#d14c68","#eaaa66","#96bfd8"]},"legend":null}}},
{"data":{"name":"linksB"},"transform":[{"window":[{"op":"row_number","as":"id"}]},{"lookup":"h","from":{"data":{"name":"rim"},"key":"k","fields":["pathway"]}},{"flatten":["k"]},{"lookup":"k","from":{"data":{"name":"rim"},"key":"k","fields":["x","y"]}}],
"mark":{"type":"line","strokeWidth":0.4,"interpolate":"catmull-rom"},
"encoding":{"x":{"field":"x","type":"quantitative"},"y":{"field":"y","type":"quantitative"},"detail":{"field":"id"},"order":{"value":null},"fill":{"field":"pathway","type":"nominal"},"stroke":{"field":"pathway","type":"nominal","legend":null}}},
{"data":{"values":[{}]},"mark":{"type":"arc","theta":0,"theta2":6.2832,"radius":275,"radius2":231,"fill":"white"},"encoding":{"x":{"datum":0,"type":"quantitative"},"y":{"datum":0,"type":"quantitative"}}},
{"data":{"values":[{"pathway":"Ribosome biogenesis in eukaryotes","n":42},{"pathway":"Steroid biosynthesis","n":18},{"pathway":"Proteasome","n":23},{"pathway":"Fatty acid biosynthesis","n":12},{"pathway":"Circadian rhythm","n":16},{"pathway":"RNA polymerase","n":11},{"pathway":"Terpenoid backbone biosynthesis","n":10},{"pathway":"PPAR signaling pathway","n":18},{"pathway":"Spinocerebellar ataxia","n":31},{"pathway":"Amyotrophic lateral sclerosis","n":46}]},"transform":[{"window":[{"op":"row_number","as":"i"}]}],
"mark":{"type":"arc","radius":271,"radius2":231,"fillOpacity":0.72,"stroke":"#444","strokeWidth":0.6},
"encoding":{"x":{"datum":0,"type":"quantitative"},"y":{"datum":0,"type":"quantitative"},"theta":{"field":"n","type":"quantitative","stack":true,"scale":{"range":[0,3.14159],"nice":false}},"order":{"field":"i"},"fill":{"field":"pathway","type":"nominal","legend":{"title":null,"orient":"none","legendX":116,"legendY":726,"padding":0,"symbolType":"circle","symbolSize":420,"symbolStrokeWidth":0,"labelFont":"Liberation Sans","labelFontSize":28.2,"labelColor":"#111","labelLimit":700,"labelOffset":-2,"rowPadding":7.1}}}},
{"data":{"values":[{"w":2,"v":-2.7},{"w":1,"v":-2.6},{"w":1,"v":-2.5},{"w":1,"v":-2.4},{"w":1,"v":-2.3},{"w":1,"v":-2.1},{"w":2,"v":-1.9},{"w":2,"v":-1.7},{"w":1,"v":-1.6},{"w":3,"v":-1.5},{"w":2,"v":-1.4},{"w":1,"v":-1.3},{"w":3,"v":-1.2},{"w":2,"v":-1.1},{"w":3,"v":-1},{"w":2,"v":-0.9},{"w":1,"v":-0.8},{"w":2,"v":-0.8},{"w":3,"v":-0.7},{"w":2,"v":-0.7},{"w":1,"v":-0.6},{"w":2,"v":-0.6},{"w":2,"v":-0.5},{"w":1,"v":-0.5},{"w":2,"v":-0.4},{"w":3,"v":-0.4},{"w":2,"v":-0.3},{"w":1,"v":-0.3},{"w":2,"v":-0.2},{"w":2,"v":-0.2},{"w":1,"v":-0.1},{"w":3,"v":-0.1},{"w":2,"v":0},{"w":1,"v":0},{"w":2,"v":0},{"w":3,"v":0.1},{"w":2,"v":0.1},{"w":1,"v":0.1},{"w":2,"v":0.1},{"w":4,"v":0.2},{"w":2,"v":0.2},{"w":1,"v":0.2},{"w":1,"v":0.2},{"w":3,"v":0.3},{"w":5,"v":0.3},{"w":1,"v":0.3},{"w":1,"v":0.3},{"w":2,"v":0.3},{"w":3,"v":0.4},{"w":1,"v":0.4},{"w":1,"v":0.4},{"w":4,"v":0.4},{"w":1,"v":0.4},{"w":2,"v":0.4},{"w":5,"v":0.4},{"w":1,"v":0.5},{"w":1,"v":0.5},{"w":2,"v":0.5},{"w":4,"v":0.5},{"w":1,"v":0.5},{"w":3,"v":0.5},{"w":1,"v":0.5},{"w":7,"v":0.5},{"w":1,"v":0.6},{"w":1,"v":0.6},{"w":4,"v":0.6},{"w":6,"v":0.6},{"w":1,"v":0.6},{"w":3,"v":0.6},{"w":2,"v":0.6},{"w":2,"v":0.6},{"w":1,"v":0.6},{"w":4,"v":0.7},{"w":1,"v":0.7},{"w":3,"v":0.7},{"w":2,"v":0.7},{"w":1,"v":0.7},{"w":1,"v":0.7},{"w":2,"v":0.7},{"w":6,"v":0.7},{"w":1,"v":0.8},{"w":1,"v":0.8},{"w":2,"v":0.8},{"w":1,"v":0.8},{"w":3,"v":0.8},{"w":2,"v":0.8},{"w":1,"v":0.8},{"w":3,"v":0.8},{"w":2,"v":0.9},{"w":6,"v":0.9},{"w":1,"v":0.9},{"w":1,"v":0.9},{"w":2,"v":0.9},{"w":2,"v":0.9},{"w":1,"v":0.9},{"w":2,"v":1},{"w":1,"v":1},{"w":5,"v":1},{"w":2,"v":1},{"w":2,"v":1.1},{"w":2,"v":1.1},{"w":1,"v":1.1},{"w":2,"v":1.1},{"w":1,"v":1.2},{"w":2,"v":1.2},{"w":2,"v":1.3},{"w":2,"v":1.3},{"w":1,"v":1.3},{"w":2,"v":1.4},{"w":2,"v":1.5},{"w":6,"v":1.6},{"w":2,"v":1.8},{"w":2,"v":2},{"w":2,"v":2.2},{"w":1,"v":3},{"w":3,"v":5}]},"transform":[{"window":[{"op":"row_number","as":"i"}]}],
"mark":{"type":"arc","radius":271,"radius2":251,"stroke":"#222","strokeWidth":0.6},
"encoding":{"x":{"datum":0,"type":"quantitative"},"y":{"datum":0,"type":"quantitative"},"theta":{"field":"w","type":"quantitative","stack":true,"scale":{"range":[3.14159,6.28319],"nice":false}},"order":{"field":"i"},"color":{"field":"v","type":"quantitative","scale":{"domain":[-3,0.5,5],"range":["#5f5aa8","#ad64ae","#f67c6e"]},"legend":{"title":"Log2FC","orient":"none","legendX":571,"legendY":103,"direction":"horizontal","gradientLength":98,"gradientThickness":19,"values":[-2,0,2,4],"labelExpr":"''+datum.value","labelOverlap":false,"titleFont":"Liberation Sans","titleFontWeight":"normal","titleFontSize":21,"titleColor":"#111","titleAnchor":"middle","titlePadding":7,"labelFont":"Liberation Sans","labelFontSize":22,"labelOffset":5,"labelColor":"#111","padding":0}}}},
{"data":{"values":[{}]},"mark":{"type":"rect","fill":"#f7a083","stroke":"#e8262a","strokeWidth":3},"encoding":{"x":{"datum":-142,"type":"quantitative"},"x2":{"datum":140.8},"y":{"datum":165.8,"type":"quantitative"},"y2":{"datum":145}}},
{"data":{"values":[{"t":"Normoxia vs Reoxygenation"}]},"mark":{"type":"text","fontSize":36.7,"fontWeight":"bold","align":"center","baseline":"middle","color":"#000"},"encoding":{"text":{"field":"t"},"x":{"datum":2.9,"type":"quantitative"},"y":{"datum":156.3,"type":"quantitative"}}},
{"data":{"values":[{"t":"B"}]},"mark":{"type":"text","fontSize":28,"fontWeight":"bold","align":"center","baseline":"middle","color":"#000"},"encoding":{"text":{"field":"t"},"x":{"datum":-134.5,"type":"quantitative"},"y":{"datum":128.4,"type":"quantitative"}}},
{"data":{"values":[{"t":"KEGG Pathway"}]},"mark":{"type":"text","fontSize":27,"fontWeight":"bold","align":"left","baseline":"middle","color":"#000"},"encoding":{"text":{"field":"t"},"x":{"datum":-136.7,"type":"quantitative"},"y":{"datum":-132,"type":"quantitative"}}}
]},
{"width":720,"height":782,"resolve":{"scale":{"theta":"independent"}},"layer":[
{"data":{"values":[
{"pathway":"Ribosome biogenesis in eukaryotes","x":[0,18,36,23.5,17,10.6,6.5,1.6,0,0],"y":[102,100,95.4,71.5,56.6,48.4,50.7,59.6,71.5,102]},
{"pathway":"Proteasome","x":[36,50,61.7,46.3,31.7,20.3,15.4,17,20.3,26.8,36],"y":[95.4,90,81.3,61,49.2,43.2,40.3,41.8,50.7,71.5,95.4]},
{"pathway":"Spinocerebellar ataxia","x":[61.7,75,86.3,67.4,51.1,31.7,26.8,31.7,38.1,47.9,61.7],"y":[81.3,70,54.4,43.2,35.8,34.3,23.9,34.3,49.2,64,81.3]},
{"pathway":"RNA polymerase","x":[86.3,92.5,67.4,43,31.7,43,59.3,86.3],"y":[54.4,42.9,32.8,29.1,30.6,31.4,37.3,54.4]},
{"pathway":"Ribosome","x":[92.5,97,100,67.4,49.5,47.9,52.8,67.4,92.5],"y":[42.9,32,20.2,17.2,19.5,19.5,21,28.4,42.9]},
{"pathway":"Parkinson disease","x":[100,102,100.5,67.4,44.6,43.8,46.3,67.4,100],"y":[20.2,0,-17.5,-8.8,-1.3,-1.3,-1.3,9.1,20.2]},
{"pathway":"Huntington disease","x":[100.5,94,83.5,59.3,39,39,40.6,51.1,67.4,100.5],"y":[-17.5,-38,-58.5,-37,-21.4,-20.7,-19.9,-16.2,-14.7,-17.5]},
{"pathway":"Amyotrophic lateral sclerosis","x":[83.5,68,48.2,36.5,22.7,23.5,36.5,59.3,72.2,83.5],"y":[-58.5,-76,-89.9,-66.7,-36.3,-37,-37,-43.7,-51.9,-58.5]},
{"pathway":"Prion disease","x":[48.2,30,11.7,5.7,2.4,7.3,18.7,30,39.8,48.2],"y":[-89.9,-97,-101.3,-62.3,-46.7,-46.7,-48.9,-60.8,-77.1,-89.9]},
{"pathway":"Cytosolic DNA-sensing pathway","x":[11.7,0,0,0,3,6,11.7],"y":[-101.3,-102,-80,-43,-50,-68,-101.3]}]},
"mark":{"type":"line","strokeWidth":0.5,"interpolate":"catmull-rom"},"transform":[{"flatten":["x","y"]}],
"encoding":{"x":{"field":"x","type":"quantitative","scale":{"domain":[-140.5,164.6],"nice":false,"zero":false}},"y":{"field":"y","type":"quantitative","scale":{"domain":[-177.1,154.2],"nice":false,"zero":false}},"order":{"value":null},"fill":{"field":"pathway","type":"nominal","scale":{"domain":["Ribosome biogenesis in eukaryotes","Proteasome","Spinocerebellar ataxia","RNA polymerase","Ribosome","Parkinson disease","Huntington disease","Amyotrophic lateral sclerosis","Prion disease","Cytosolic DNA-sensing pathway"," ","  "],"range":["#888888","#d0544e","#7aa6d8","#0f3d6a","#8c7430","#3a3a3a","#a92c2c","#4a6a94","#62c0a6","#f58a5e","#ffffff","#ffffff"]}},"stroke":{"field":"pathway","type":"nominal","scale":{"domain":["Ribosome biogenesis in eukaryotes","Proteasome","Spinocerebellar ataxia","RNA polymerase","Ribosome","Parkinson disease","Huntington disease","Amyotrophic lateral sclerosis","Prion disease","Cytosolic DNA-sensing pathway"],"range":["#888888","#d0544e","#7aa6d8","#0f3d6a","#8c7430","#3a3a3a","#a92c2c","#4a6a94","#62c0a6","#f58a5e"]},"legend":null}}},
{"data":{"name":"linksC"},"transform":[{"window":[{"op":"row_number","as":"id"}]},{"lookup":"h","from":{"data":{"name":"rim"},"key":"k","fields":["pathway"]}},{"flatten":["k"]},{"lookup":"k","from":{"data":{"name":"rim"},"key":"k","fields":["x","y"]}}],
"mark":{"type":"line","strokeWidth":0.3,"interpolate":"catmull-rom"},
"encoding":{"x":{"field":"x","type":"quantitative"},"y":{"field":"y","type":"quantitative"},"detail":{"field":"id"},"order":{"value":null},"fill":{"field":"pathway","type":"nominal"},"stroke":{"field":"pathway","type":"nominal","legend":null}}},
{"data":{"values":[{}]},"mark":{"type":"arc","theta":0,"theta2":6.2832,"radius":266,"radius2":236,"fill":"white"},"encoding":{"x":{"datum":0,"type":"quantitative"},"y":{"datum":0,"type":"quantitative"}}},
{"data":{"values":[{"pathway":"Ribosome biogenesis in eukaryotes","n":31},{"pathway":"Proteasome","n":25},{"pathway":"Spinocerebellar ataxia","n":31},{"pathway":"RNA polymerase","n":11},{"pathway":"Ribosome","n":20},{"pathway":"Parkinson disease","n":32},{"pathway":"Huntington disease","n":38},{"pathway":"Amyotrophic lateral sclerosis","n":40},{"pathway":"Prion disease","n":32},{"pathway":"Cytosolic DNA-sensing pathway","n":10}]},"transform":[{"window":[{"op":"row_number","as":"i"}]}],
"mark":{"type":"arc","radius":262,"radius2":236,"fillOpacity":0.72,"stroke":"#444","strokeWidth":0.6},
"encoding":{"x":{"datum":0,"type":"quantitative"},"y":{"datum":0,"type":"quantitative"},"theta":{"field":"n","type":"quantitative","stack":true,"scale":{"range":[0,3.14159],"nice":false}},"order":{"field":"i"},"fill":{"field":"pathway","type":"nominal","legend":{"title":null,"orient":"none","legendX":0,"legendY":688,"padding":0,"columns":4,"columnPadding":4.3,"rowPadding":8,"symbolType":"circle","symbolSize":420,"symbolStrokeWidth":0,"labelFont":"Liberation Sans","labelFontSize":25.4,"labelColor":"#111","labelLimit":700,"labelOffset":2}}}},
{"data":{"values":[{"w":1,"v":-3},{"w":1,"v":-3},{"w":1,"v":-2.6},{"w":1,"v":-2.3},{"w":1,"v":-2},{"w":1,"v":-1.8},{"w":1,"v":-1.6},{"w":1,"v":-1.4},{"w":1,"v":-1.2},{"w":1,"v":-1},{"w":1,"v":-0.8},{"w":1,"v":-0.6},{"w":1,"v":-0.4},{"w":1,"v":-0.2},{"w":1,"v":0},{"w":6,"v":0.2},{"w":7,"v":0.3},{"w":6,"v":0.3},{"w":1,"v":0.35},{"w":1,"v":0.4},{"w":1,"v":0.4},{"w":6,"v":0.45},{"w":6,"v":0.5},{"w":1,"v":0.5},{"w":1,"v":0.5},{"w":6,"v":0.55},{"w":1,"v":0.6},{"w":1,"v":0.6},{"w":1,"v":0.6},{"w":1,"v":0.6},{"w":7,"v":0.65},{"w":4,"v":0.7},{"w":5,"v":0.7},{"w":6,"v":0.7},{"w":1,"v":0.75},{"w":1,"v":0.75},{"w":1,"v":0.75},{"w":6,"v":0.8},{"w":4,"v":0.8},{"w":1,"v":0.8},{"w":1,"v":0.8},{"w":5,"v":0.85},{"w":6,"v":0.85},{"w":1,"v":0.9},{"w":1,"v":0.9},{"w":1,"v":0.9},{"w":1,"v":0.9},{"w":5,"v":0.9},{"w":6,"v":0.95},{"w":5,"v":1},{"w":1,"v":1},{"w":1,"v":1},{"w":7,"v":1},{"w":5,"v":1.05},{"w":6,"v":1.05},{"w":1,"v":1.1},{"w":1,"v":1.1},{"w":1,"v":1.1},{"w":1,"v":1.1},{"w":5,"v":1.1},{"w":6,"v":1.1},{"w":7,"v":1.15},{"w":6,"v":1.2},{"w":1,"v":1.2},{"w":1,"v":1.2},{"w":5,"v":1.2},{"w":6,"v":1.25},{"w":1,"v":1.25},{"w":1,"v":1.25},{"w":6,"v":1.3},{"w":5,"v":1.3},{"w":1,"v":1.3},{"w":1,"v":1.3},{"w":1,"v":1.3},{"w":6,"v":1.35},{"w":6,"v":1.35},{"w":1,"v":1.4},{"w":1,"v":1.4},{"w":1,"v":1.4},{"w":1,"v":1.4},{"w":1,"v":1.4},{"w":6,"v":1.4},{"w":5,"v":1.45},{"w":1,"v":1.45},{"w":1,"v":1.45},{"w":6,"v":1.5},{"w":6,"v":1.5},{"w":1,"v":1.5},{"w":1,"v":1.5},{"w":1,"v":1.5},{"w":1,"v":1.5},{"w":1,"v":1.55},{"w":6,"v":1.55},{"w":1,"v":1.55},{"w":1,"v":1.6},{"w":1,"v":1.6},{"w":1,"v":1.6},{"w":5,"v":1.6},{"w":1,"v":1.6},{"w":1,"v":1.65},{"w":1,"v":1.65},{"w":4,"v":1.65},{"w":1,"v":1.7},{"w":1,"v":1.7},{"w":1,"v":1.7},{"w":6,"v":1.7},{"w":6,"v":1.7},{"w":1,"v":1.75},{"w":1,"v":1.75},{"w":1,"v":1.75},{"w":6,"v":1.8},{"w":1,"v":1.8},{"w":1,"v":1.8},{"w":1,"v":1.8},{"w":1,"v":1.8},{"w":7,"v":1.85},{"w":5,"v":1.85},{"w":1,"v":1.9},{"w":1,"v":1.9},{"w":1,"v":1.9},{"w":6,"v":1.9},{"w":4,"v":2},{"w":1,"v":2},{"w":1,"v":2},{"w":1,"v":2},{"w":6,"v":2.1},{"w":1,"v":2.2},{"w":1,"v":2.2},{"w":1,"v":2.2},{"w":1,"v":2.3}]},"transform":[{"window":[{"op":"row_number","as":"i"}]}],
"mark":{"type":"arc","radius":262,"radius2":247,"stroke":"#222","strokeWidth":0.7},
"encoding":{"x":{"datum":0,"type":"quantitative"},"y":{"datum":0,"type":"quantitative"},"theta":{"field":"w","type":"quantitative","stack":true,"scale":{"range":[3.14159,6.28319],"nice":false}},"order":{"field":"i"},"color":{"field":"v","type":"quantitative","scale":{"domain":[-3.5,0,3.01],"range":["#f2855c","#9a62ab","#5b55a5"]},"legend":{"title":"Log2FC","orient":"none","legendX":537,"legendY":111,"direction":"horizontal","gradientLength":90,"gradientThickness":18,"values":[-3,-2,-1,0,1,2,3],"labelExpr":"''+datum.value","labelOverlap":false,"titleFont":"Liberation Sans","titleFontWeight":"bold","titleFontSize":19.3,"titleColor":"#111","titleAnchor":"middle","titlePadding":6,"labelFont":"Liberation Sans","labelFontSize":14,"labelColor":"#111","padding":0}}}},
{"data":{"values":[{}]},"mark":{"type":"rect","fill":"#90c8e8","stroke":"#1d6e8e","strokeWidth":3},"encoding":{"x":{"datum":-134.7,"type":"quantitative"},"x2":{"datum":142.5},"y":{"datum":153.3,"type":"quantitative"},"y2":{"datum":132.6}}},
{"data":{"values":[{"t":"Hypoxia vs Reoxygenayion"}]},"mark":{"type":"text","fontSize":36.7,"fontWeight":"bold","align":"center","baseline":"middle","color":"#000"},"encoding":{"text":{"field":"t"},"x":{"datum":8.6,"type":"quantitative"},"y":{"datum":143,"type":"quantitative"}}},
{"data":{"values":[{"t":"C"}]},"mark":{"type":"text","fontSize":28,"fontWeight":"bold","align":"center","baseline":"middle","color":"#000"},"encoding":{"text":{"field":"t"},"x":{"datum":-129.5,"type":"quantitative"},"y":{"datum":120.8,"type":"quantitative"}}},
{"data":{"values":[{"t":"KEGG Pathway"}]},"mark":{"type":"text","fontSize":27.8,"fontWeight":"bold","align":"left","baseline":"middle","color":"#000"},"encoding":{"text":{"field":"t"},"x":{"datum":-138.3,"type":"quantitative"},"y":{"datum":-116.4,"type":"quantitative"}}}
]}
]}
